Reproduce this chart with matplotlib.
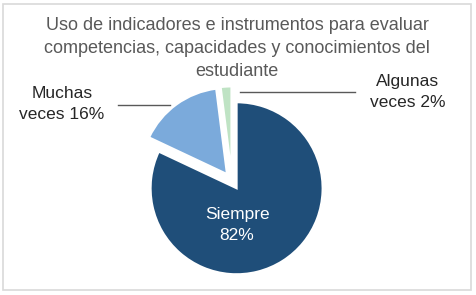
import matplotlib
matplotlib.use("Agg")
import matplotlib.pyplot as plt
from matplotlib.patches import Rectangle
from matplotlib.lines import Line2D

# Data
categories = ["Siempre", "Muchas veces", "Algunas veces"]
values = [82, 16, 2]
colors = ["#1F4E79", "#7BAADB", "#BFE3C4"]
title_lines = ["Uso de indicadores e instrumentos para evaluar",
               "competencias, capacidades y conocimientos del",
               "estudiante"]

W, H = 476, 295
fig = plt.figure(figsize=(W / 100, H / 100), dpi=100)

def px(x, y):
    return x / W, 1 - y / H

# chart border
fig.patches.append(Rectangle(px(3, 290), 468 / W, 286 / H, transform=fig.transFigure,
                             fill=False, edgecolor="#D9D9D9", linewidth=1.2))

# pie axes: center (232,181) px, radius 86 px
r = 86
half = 110
cx, cy = 232, 181
l, b = px(cx - half, cy + half)
ax = fig.add_axes([l, b, 2 * half / W, 2 * half / H])
ax.pie(values, colors=colors, startangle=90, counterclock=False,
       explode=[0.1, 0.1, 0.1], radius=1,
       wedgeprops=dict(edgecolor="white", linewidth=1.5))
ax.set_xlim(-half / r, half / r)
ax.set_ylim(-half / r, half / r)
ax.set_aspect("equal")
ax.axis("off")

font = "Liberation Sans"
tc = "#595959"
# title, one text per line
for i, line in enumerate(title_lines):
    fig.text(*px(237, 25 + 23.5 * i), line, ha="center", va="center", fontsize=13,
             color=tc, family=font)

fig.text(*px(62, 104), "Muchas\nveces 16%", ha="center", va="center", fontsize=12.5,
         color="#262626", family=font, linespacing=1.45)
fig.text(*px(408, 92), "Algunas\nveces 2%", ha="center", va="center", fontsize=12.5,
         color="#262626", family=font, linespacing=1.45)
fig.text(*px(237, 225), "Siempre\n82%", ha="center", va="center", fontsize=12.5,
         color="white", family=font, linespacing=1.45)

# leader lines
for x0, x1, y in [(118, 170, 105), (240, 355, 92)]:
    (a, c), (bb, d) = px(x0, y), px(x1, y)
    fig.lines.append(Line2D([a, bb], [c, d], transform=fig.transFigure,
                            color="#595959", linewidth=1))

fig.savefig("out.png", dpi=100)
